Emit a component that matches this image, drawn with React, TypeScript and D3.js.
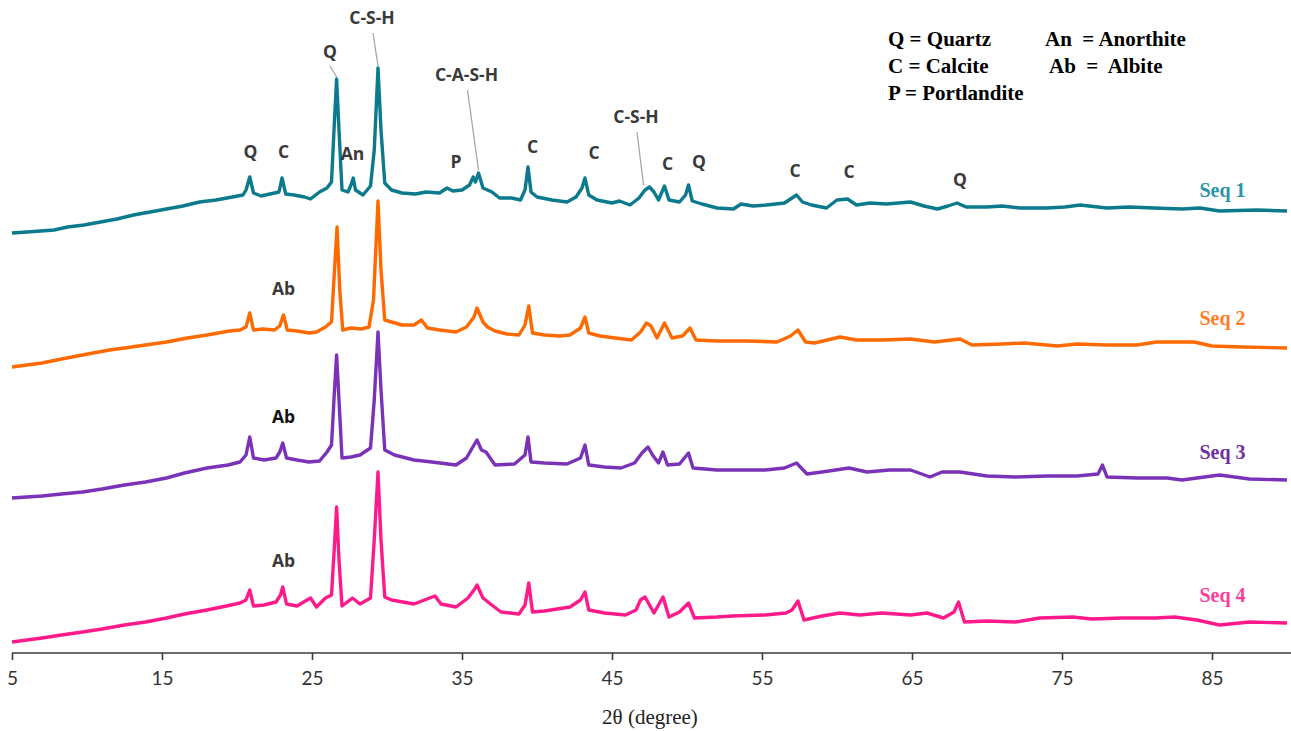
import React, { useRef, useEffect } from 'react';
import * as d3 from 'd3';

// 2θ (degree), intensity (a.u., series already offset as in the figure)
const seq1: [number, number][] = [
  [5, 420], [6, 421], [6.9, 422], [7.8, 423], [8.7, 426], [9.8, 428], [10.9, 431], [12, 434], [13.1, 438],
  [14.2, 441], [15.3, 444], [16.4, 447], [17.5, 451], [18.6, 453], [19.7, 456], [20.4, 458], [20.6, 463],
  [20.85, 476], [21.1, 460], [21.6, 457], [22.2, 459], [22.8, 461], [23, 475], [23.25, 459], [23.8, 458],
  [24.5, 456], [24.9, 454], [25.5, 461], [26, 465], [26.3, 471], [26.5, 533], [26.64, 574], [26.8, 523],
  [27, 463], [27.4, 461], [27.6, 468], [27.75, 475], [27.9, 463], [28.4, 458], [28.9, 467], [29.15, 503],
  [29.4, 585], [29.6, 523], [29.85, 470], [30.3, 463], [31, 460], [31.9, 459], [32.6, 461], [33.5, 460],
  [34, 465], [34.4, 462], [35, 463], [35.5, 468], [35.75, 476], [35.9, 471], [36.1, 480], [36.4, 465],
  [36.7, 463], [37, 461], [37.5, 455], [38.3, 455], [38.9, 453], [39.2, 463], [39.4, 486], [39.6, 461],
  [40, 456], [41, 453], [42, 451], [42.6, 456], [43, 465], [43.2, 475], [43.45, 458], [44, 453], [45, 450],
  [45.5, 452], [46.2, 448], [46.8, 455], [47.2, 463], [47.5, 466], [47.8, 461], [48.1, 453], [48.5, 467],
  [48.8, 453], [49.5, 451], [49.9, 458], [50.1, 468], [50.35, 452], [51, 449], [52, 445], [53.1, 444],
  [53.6, 449], [54.4, 447], [55.3, 448], [56.5, 450], [57, 455], [57.3, 458], [57.7, 451], [58.3, 448],
  [59.3, 445], [60, 453], [60.7, 454], [61.3, 448], [62.2, 450], [63.3, 449], [64.9, 451], [65.8, 447],
  [66.7, 444], [67.4, 447], [68, 450], [68.6, 446], [70, 446], [71, 447], [72.2, 445], [74, 445], [75.2, 446],
  [76.2, 448], [78, 445], [79.5, 446], [81.1, 445], [83, 444], [84.2, 445], [85.5, 442], [88, 443], [90, 442],
];

const seq2: [number, number][] = [
  [5, 286], [6, 288], [7, 290], [8.3, 294], [9.7, 298], [10.4, 300], [11.5, 303], [12.5, 305], [13.9, 308],
  [15.3, 311], [16.7, 315], [18, 318], [19.5, 322], [20.2, 323], [20.6, 326], [20.85, 340], [21.1, 323],
  [21.7, 324], [22.5, 323], [22.85, 327], [23.1, 338], [23.35, 323], [24, 322], [24.8, 320], [25.3, 321],
  [25.9, 326], [26.3, 331], [26.5, 383], [26.67, 426], [26.85, 363], [27.05, 323], [27.6, 325], [28.3, 324],
  [28.8, 326], [29.1, 353], [29.4, 452], [29.6, 383], [29.85, 333], [30.3, 331], [31, 328], [31.8, 328],
  [32.3, 333], [32.7, 325], [33.5, 323], [34.6, 321], [35.3, 326], [35.8, 336], [36, 345], [36.4, 331],
  [36.7, 326], [37.2, 322], [38, 319], [38.8, 318], [39.2, 328], [39.45, 347], [39.7, 320], [40.5, 318],
  [41.5, 317], [42.2, 318], [42.9, 325], [43.2, 336], [43.45, 320], [44.2, 317], [45.2, 315], [46.3, 313],
  [46.9, 321], [47.3, 330], [47.6, 327], [48, 315], [48.5, 330], [49, 315], [49.7, 317], [50.2, 325],
  [50.6, 313], [52, 312], [54, 312], [56, 311], [56.9, 317], [57.4, 323], [57.9, 311], [58.5, 310],
  [60.2, 316], [61.3, 313], [63, 313], [64.9, 314], [66.5, 311], [68.2, 314], [69, 308], [71, 309],
  [72.5, 310], [74.7, 307], [76, 309], [78, 308], [80, 308], [81.3, 311], [83.8, 311], [85, 307], [87, 306],
  [90, 305],
];

const seq3: [number, number][] = [
  [5, 155], [6, 156], [7, 157], [8.3, 159], [9.7, 161], [11, 164], [12.5, 168], [13.9, 171], [15.3, 175],
  [16.5, 180], [18, 185], [19.4, 188], [20.2, 191], [20.6, 198], [20.85, 216], [21.1, 195], [21.8, 193],
  [22.6, 195], [22.85, 201], [23.05, 210], [23.3, 195], [24, 193], [24.8, 191], [25.5, 192], [26, 201],
  [26.3, 208], [26.5, 263], [26.64, 298], [26.8, 253], [27, 195], [27.6, 196], [28.2, 198], [28.9, 205],
  [29.15, 253], [29.4, 321], [29.6, 263], [29.85, 203], [30.5, 198], [31.8, 193], [33, 191], [34.6, 188],
  [35.3, 195], [35.8, 208], [36, 213], [36.3, 203], [36.6, 201], [37.2, 188], [38.5, 189], [39.2, 198],
  [39.4, 216], [39.6, 191], [40.5, 190], [42, 189], [42.9, 195], [43.2, 208], [43.45, 188], [44.5, 186],
  [45.6, 185], [46.5, 190], [47, 200], [47.4, 206], [47.7, 198], [48.1, 190], [48.4, 201], [48.7, 188],
  [49.5, 189], [50.1, 200], [50.4, 185], [52, 183], [53.5, 183], [55.2, 183], [56.5, 185], [57.3, 190],
  [58, 179], [59, 181], [60.8, 185], [62, 181], [63.5, 183], [64.9, 183], [66.2, 176], [67, 181],
  [68.2, 181], [70, 177], [71.9, 176], [74, 177], [76, 177], [77.4, 179], [77.7, 188], [78, 176], [80, 175],
  [82, 175], [83, 173], [85.5, 178], [87.5, 174], [90, 173],
];

const seq4: [number, number][] = [
  [5, 11], [6, 13], [7, 15], [8.3, 18], [9.7, 21], [11, 24], [12.5, 28], [13.9, 31], [15.3, 35], [16.5, 39],
  [18, 43], [19.3, 47], [20.2, 50], [20.6, 53], [20.85, 63], [21.1, 47], [21.8, 48], [22.6, 51], [22.9, 58],
  [23.05, 66], [23.3, 49], [24, 47], [24.9, 55], [25.3, 46], [25.9, 55], [26.3, 58], [26.5, 108],
  [26.64, 146], [26.8, 93], [27, 47], [27.7, 55], [28.2, 49], [28.9, 55], [29.15, 113], [29.4, 181],
  [29.6, 113], [29.85, 56], [30.3, 53], [31.8, 49], [33.2, 57], [33.6, 49], [34.6, 46], [35.4, 55],
  [35.8, 63], [36, 68], [36.4, 55], [36.9, 49], [37.6, 41], [38.8, 39], [39.2, 48], [39.45, 70], [39.7, 41],
  [40.5, 42], [42.2, 46], [42.9, 53], [43.2, 61], [43.45, 43], [44.5, 40], [45.9, 38], [46.6, 43],
  [46.9, 53], [47.2, 56], [47.5, 48], [47.8, 40], [48.4, 56], [48.8, 36], [49.5, 41], [50.1, 50],
  [50.5, 35], [52, 36], [53, 37], [55.2, 38], [56.6, 40], [57, 43], [57.4, 52], [57.8, 33], [59, 37],
  [60.2, 40], [61.5, 38], [63, 40], [64.9, 38], [66, 40], [67.1, 35], [67.8, 41], [68.1, 51], [68.5, 31],
  [70, 32], [71.9, 31], [73.5, 35], [75.7, 36], [77, 34], [79, 35], [81.2, 35], [82.5, 36], [84, 33],
  [85.5, 28], [87.5, 31], [90, 30],
];

const seriesNames = ['Seq 1', 'Seq 2', 'Seq 3', 'Seq 4'];
const seriesData = [seq1, seq2, seq3, seq4];
const lineColors = ['#0b7a8c', '#ff6a00', '#7a33b8', '#ff1a8c'];
const labelColors = ['#2b93aa', '#ff7d2a', '#7030a0', '#ff3d9a'];
// label anchor: [2θ, intensity] where the series name sits
const seriesLabelPos: [number, number][] = [[85.7, 463], [85.7, 335], [85.7, 201], [85.7, 58]];

const xTicks = [5, 15, 25, 35, 45, 55, 65, 75, 85];

// phase annotations: text, 2θ, intensity of label centre
const peakLabels: [string, number, number][] = [
  ['Q', 20.9, 501], ['C', 23.1, 501], ['An', 27.7, 499], ['P', 34.6, 491], ['C', 39.7, 506], ['C', 43.8, 500],
  ['C', 48.7, 489], ['Q', 50.8, 491], ['C', 57.2, 482], ['C', 60.8, 481], ['Q', 68.2, 473],
  ['Ab', 23.1, 364], ['Ab', 23.1, 92],
];
const boldLabels: [string, number, number][] = [['Ab', 23.1, 236]];

// labels with leader lines: text, label 2θ, label intensity, peak 2θ, peak intensity
const leaderLabels: [string, number, number, number, number][] = [
  ['Q', 26.2, 601, 26.64, 574],
  ['C-S-H', 29.0, 635, 29.4, 585],
  ['C-A-S-H', 35.3, 578, 36.1, 481],
  ['C-S-H', 46.6, 536, 47.1, 466],
];

const legendRows: [string, string][] = [
  ['Q = Quartz', 'An  = Anorthite'],
  ['C = Calcite', 'Ab  =  Albite'],
  ['P = Portlandite', ''],
];

const XrdChart = () => {
  const svgRef = useRef<SVGSVGElement>(null);

  useEffect(() => {
    const svg = d3.select(svgRef.current);
    svg.selectAll('*').remove();

    const width = 1291;
    const height = 731;
    const axisY = 653;

    const x = d3.scaleLinear().domain([5, 90]).range([12, 1287]);
    const y = d3.scaleLinear().domain([0, 653]).range([axisY, 0]);

    const line = d3.line<[number, number]>()
      .x(d => x(d[0]))
      .y(d => y(d[1]));

    seriesData.forEach((s, i) => {
      svg.append('path')
        .datum(s)
        .attr('fill', 'none')
        .attr('stroke', lineColors[i])
        .attr('stroke-width', 3.4)
        .attr('stroke-linejoin', 'round')
        .attr('d', line);

      svg.append('text')
        .attr('x', x(seriesLabelPos[i][0]))
        .attr('y', y(seriesLabelPos[i][1]))
        .attr('dy', '0.35em')
        .attr('text-anchor', 'middle')
        .style('font-family', '"Liberation Serif", serif')
        .style('font-weight', 700)
        .style('font-size', '20px')
        .style('fill', labelColors[i])
        .text(seriesNames[i]);
    });

    // x axis
    const xAxis = d3.axisBottom(x).tickValues(xTicks).tickSize(7).tickSizeOuter(0).tickPadding(12);
    const gx = svg.append('g')
      .attr('transform', `translate(0,${axisY})`)
      .call(xAxis);
    gx.select('.domain').attr('stroke', '#3a3a3a').attr('stroke-width', 1.6).attr('d', `M${x(5)},0H${width}`);
    gx.selectAll('.tick line').attr('stroke', '#3a3a3a').attr('stroke-width', 1.6);
    gx.selectAll('.tick text')
      .style('font-family', 'Lato, sans-serif')
      .style('font-size', '19px')
      .style('fill', '#333');

    svg.append('text')
      .attr('x', 650)
      .attr('y', 717)
      .attr('dy', '0.35em')
      .attr('text-anchor', 'middle')
      .style('font-family', '"Liberation Serif", serif')
      .style('font-size', '21px')
      .style('fill', '#222')
      .text('2θ (degree)');

    const labelStyle = (sel: any, color: string) => sel
      .attr('text-anchor', 'middle')
      .attr('dy', '0.35em')
      .style('font-family', '"Open Sans", sans-serif')
      .style('font-weight', 700)
      .style('font-size', '17.5px')
      .style('fill', color);

    peakLabels.forEach(([t, px, py]) => {
      svg.append('text').attr('x', x(px)).attr('y', y(py)).call(labelStyle, '#3a3a3a').text(t);
    });
    boldLabels.forEach(([t, px, py]) => {
      svg.append('text').attr('x', x(px)).attr('y', y(py)).call(labelStyle, '#111').text(t);
    });

    leaderLabels.forEach(([t, lx, ly, px, py]) => {
      svg.append('text').attr('x', x(lx)).attr('y', y(ly)).call(labelStyle, '#3a3a3a').text(t);
      svg.append('line')
        .attr('x1', x(lx) + (t === 'Q' ? 0 : 1))
        .attr('y1', y(ly) + (t === 'Q' ? 14 : 15))
        .attr('x2', x(px))
        .attr('y2', y(py) - 2)
        .attr('stroke', '#a6a6a6')
        .attr('stroke-width', 1.3);
    });

    // legend
    const legend = svg.append('g')
      .style('font-family', '"Liberation Serif", "Times New Roman", serif')
      .style('font-weight', 700)
      .style('font-size', '21px')
      .style('fill', '#000');
    legendRows.forEach((row, i) => {
      legend.append('text').attr('x', 888).attr('y', 46 + i * 27).style('white-space', 'pre').text(row[0]);
      if (row[1]) {
        legend.append('text').attr('x', i === 0 ? 1045 : 1049).attr('y', 46 + i * 27).style('white-space', 'pre').text(row[1]);
      }
    });

    svg.attr('width', width).attr('height', height);
  }, []);

  return <svg ref={svgRef} width={1291} height={731} style={{ display: 'block', background: '#fff' }} />;
};

export default function App() {
  return (
    <div style={{ position: 'absolute', left: 0, top: 0 }}>
      <XrdChart />
    </div>
  );
}
